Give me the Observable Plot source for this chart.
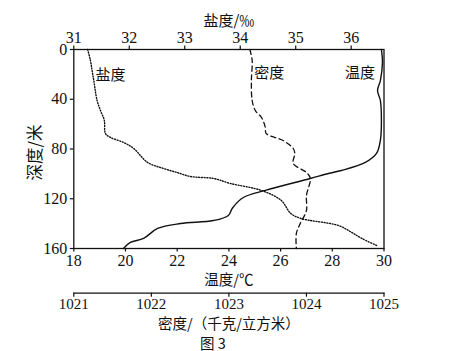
<!DOCTYPE html>
<html>
<head>
<meta charset="utf-8">
<script src="https://cdn.jsdelivr.net/npm/d3@7"></script>
<script src="https://cdn.jsdelivr.net/npm/@observablehq/plot@0.6"></script>
<style>
  html, body { margin: 0; padding: 0; background: #fff; }
  #chart { position: relative; width: 457px; height: 351px; }
  #chart svg { position: absolute; left: 0; top: 0; }
</style>
</head>
<body>
<div id="chart"></div>
<script>
// ---- data ----
const tempDepth = [0, 10.5, 25, 33, 41, 57, 73, 83.6, 90.8, 97.3, 99.7, 103.7, 113.3, 119, 127.4, 133.4, 137.5, 139.9, 143.9, 151.9, 155.1, 160];
const tempValue = [29.90, 29.94, 29.86, 29.75, 29.86, 29.90, 29.86, 29.71, 29.28, 28.35, 27.85, 27.15, 25.41, 24.56, 24.14, 23.98, 23.40, 22.13, 21.24, 20.70, 20.19, 19.92];

const salDepth = [0, 8.8, 16.9, 24.9, 41, 49, 57, 67.5, 70.7, 74.8, 79.6, 90.8, 95.7, 99, 102.1, 103.7, 107.7, 113.3, 121.4, 131.8, 135.9, 141.5, 147.1, 151.9, 157.6];
const salValue = [31.25, 31.30, 31.33, 31.36, 31.42, 31.48, 31.55, 31.57, 31.66, 31.90, 32.08, 32.33, 32.62, 32.87, 33.10, 33.52, 33.82, 34.38, 34.74, 34.91, 35.10, 35.77, 36.01, 36.19, 36.46];

const denDepth = [0, 8.8, 24.9, 41, 49, 54.7, 62.7, 67.5, 73.2, 79.6, 83.6, 91.6, 98.9, 103.7, 117.4, 129.4, 139.9, 147.9, 160];
const denValue = [1023.27, 1023.30, 1023.29, 1023.30, 1023.34, 1023.42, 1023.47, 1023.48, 1023.70, 1023.83, 1023.85, 1023.83, 1024.00, 1024.05, 1024.00, 1024.00, 1023.92, 1023.87, 1023.87];

const tempTicks = [18, 20, 22, 24, 26, 28, 30];
const salTicks = [31, 32, 33, 34, 35, 36];
const denTicks = [1021, 1022, 1023, 1024, 1025];
const depthTicks = [0, 40, 80, 120, 160];

const seriesLabels = [
  {name: "盐度", value: 31.66, depth: 20.5},
  {name: "密度", value: 1023.52, depth: 19},
  {name: "温度", value: 29.07, depth: 19}
];

const titles = {
  top: "盐度/‰",
  bottom: "温度/℃",
  density: "密度/（千克/立方米）",
  y: "深度/米",
  fig: "图 3"
};

// ---- build tables ----
const tempData = tempDepth.map((d, i) => ({d, v: tempValue[i]}));
const salData = salDepth.map((d, i) => ({d, v: salValue[i]}));
const denData = denDepth.map((d, i) => ({d, v: denValue[i]}));

// ---- layout ----
const W = 457, H = 351;
const ML = 73.3, MR = 457 - 383.5, MT = 49, MB = 351 - 248;
const yRange = [MT, H - MB];
const numFont = "Liberation Serif";
const cjkFont = "Noto Sans CJK SC";
const baseStyle = {fontFamily: numFont, fontSize: "16px", color: "#111", background: "transparent", overflow: "visible"};
const fmt = d => String(d);
const axisText = {fontFamily: numFont, fontSize: 16, label: null, strokeWidth: 1.2, tickFormat: fmt};
const titleText = {fontFamily: cjkFont, fontSize: 14.5, fill: "#111", lineAnchor: "middle", textAnchor: "middle"};

const chart = document.getElementById("chart");

// Temperature plot (main frame, left and bottom axes)
const pA = Plot.plot({
  width: W, height: H,
  marginLeft: ML, marginRight: MR, marginTop: MT, marginBottom: MB,
  style: baseStyle,
  x: {domain: [18, 30]},
  y: {domain: [0, 160], range: yRange},
  marks: [
    Plot.frame({stroke: "#111", strokeWidth: 1.3}),
    Plot.axisX(tempTicks, {...axisText, anchor: "bottom", tickSize: 3.5, tickPadding: 3}),
    Plot.axisY(depthTicks, {...axisText, anchor: "left", tickSize: 3.5, tickPadding: 3}),
    Plot.line(tempData, {x: "v", y: "d", stroke: "#111", strokeWidth: 1.4, curve: "catmull-rom"}),
    Plot.text(seriesLabels.filter(s => s.name === "温度"), {x: "value", y: "depth", text: "name", fontFamily: cjkFont, fontSize: 15, fill: "#111"}),
    Plot.text([titles.bottom], {...titleText, frameAnchor: "bottom", dy: 32}),
    Plot.text([titles.y], {...titleText, frameAnchor: "left", dx: -38, dy: 3.5, rotate: -90, fontSize: 16.5})
  ]
});

// Salinity plot (top axis)
const pB = Plot.plot({
  width: W, height: H,
  marginLeft: ML, marginRight: MR, marginTop: MT, marginBottom: MB,
  style: baseStyle,
  x: {domain: [31, 31 + (383.5 - 73.3) / 55.48]},
  y: {domain: [0, 160], range: yRange, axis: null},
  marks: [
    Plot.axisX(salTicks, {...axisText, anchor: "top", tickSize: 4.5, tickPadding: 2}),
    Plot.line(salData, {x: "v", y: "d", stroke: "#111", strokeWidth: 1.4, strokeDasharray: "1,1.7", curve: "catmull-rom"}),
    Plot.text(seriesLabels.filter(s => s.name === "盐度"), {x: "value", y: "depth", text: "name", fontFamily: cjkFont, fontSize: 15, fill: "#111"}),
    Plot.text([titles.top], {...titleText, fontSize: 15, frameAnchor: "top", dy: -28})
  ]
});

// Density plot (separate axis below)
const MBc = 351 - 292.7;
const pC = Plot.plot({
  width: W, height: H,
  marginLeft: ML, marginRight: MR, marginTop: MT, marginBottom: MBc,
  style: baseStyle,
  x: {domain: [1021, 1025]},
  y: {domain: [0, 160], range: yRange, axis: null},
  marks: [
    Plot.frame({anchor: "bottom", stroke: "#111", strokeWidth: 1.2}),
    Plot.axisX(denTicks, {...axisText, anchor: "bottom", tickSize: 4, tickPadding: 1.5, fontSize: 15}),
    Plot.line(denData, {x: "v", y: "d", stroke: "#111", strokeWidth: 1.3, strokeDasharray: "5,3.5", curve: "catmull-rom"}),
    Plot.text(seriesLabels.filter(s => s.name === "密度"), {x: "value", y: "depth", text: "name", fontFamily: cjkFont, fontSize: 15, fill: "#111"}),
    Plot.text([titles.density], {...titleText, frameAnchor: "bottom", dy: 31.5}),
    Plot.text([titles.fig], {...titleText, frameAnchor: "bottom", dx: -16, dy: 51})
  ]
});

chart.append(pA, pB, pC);
</script>
</body>
</html>
